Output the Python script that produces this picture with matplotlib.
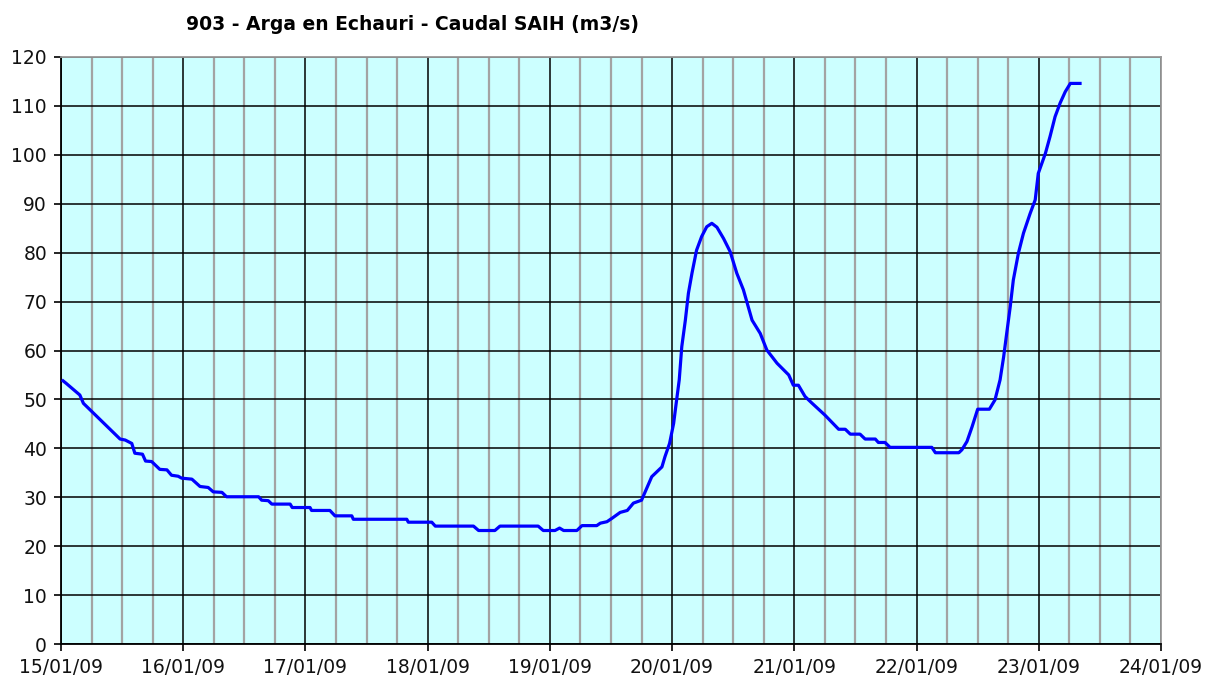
import matplotlib
matplotlib.use("Agg")
import matplotlib.pyplot as plt
import matplotlib.dates as mdates
import pandas as pd

# Hours since 15/01/09 00:00 and flow (m3/s)
hours = [0.4, 1.0, 3.7, 4.4, 11.6, 12.6, 13.9, 14.5, 16.0, 16.6, 17.8, 19.4,
         20.8, 21.7, 23.0, 23.7, 25.7, 27.3, 28.9, 29.9, 31.6, 32.5, 38.8, 39.4,
         40.7, 41.4, 45.0, 45.4, 48.9, 49.2, 52.8, 53.8, 57.1, 57.4, 67.9, 68.2,
         72.8, 73.5, 81.0, 82.0, 85.2, 86.2, 93.7, 94.7, 97.0, 97.9, 98.7, 101.3,
         102.3, 105.2, 105.9, 107.2, 108.2, 109.8, 111.2, 112.4, 114.0, 115.0,
         116.0, 118.0, 118.6, 119.5, 120.3, 120.8, 121.4, 121.9, 122.6, 123.2,
         123.9, 124.8, 125.8, 126.8, 127.8, 128.8, 130.1, 131.4, 132.7, 134.0,
         135.7, 137.3, 138.6, 140.6, 142.9, 143.8, 144.8, 146.1, 147.4, 150.0,
         152.7, 154.0, 155.0, 156.9, 157.9, 159.9, 160.5, 161.8, 162.8, 171.0,
         171.7, 176.3, 176.9, 177.9, 178.9, 180.0, 182.3, 183.4, 184.4, 185.1,
         185.7, 186.4, 187.0, 188.0, 189.0, 190.3, 191.3, 191.9, 193.3, 194.2,
         195.2, 196.2, 197.2, 198.2, 200.1]
caudal = [53.8, 53.3, 50.9, 49.2, 41.9, 41.7, 41.0, 39.0, 38.8, 37.4, 37.3, 35.7,
          35.6, 34.5, 34.3, 33.9, 33.7, 32.2, 32.0, 31.1, 31.0, 30.1, 30.1, 29.4,
          29.3, 28.6, 28.6, 27.9, 27.9, 27.3, 27.3, 26.2, 26.2, 25.5, 25.5, 24.9,
          24.9, 24.1, 24.1, 23.2, 23.2, 24.1, 24.1, 23.2, 23.2, 23.7, 23.2, 23.2,
          24.2, 24.2, 24.7, 25.0, 25.7, 26.9, 27.3, 28.8, 29.4, 31.8,
          34.2, 36.2, 38.3, 41.0, 45.1, 49.2, 54.0, 60.8, 66.2, 71.7,
          75.8, 80.5, 83.3, 85.3, 86.0, 85.2, 82.9, 80.2, 75.8, 72.4,
          66.2, 63.5, 60.1, 57.4, 55.0, 52.9, 52.9, 50.6, 49.3, 46.8,
          43.9, 43.9, 42.9, 42.9, 41.9, 41.9, 41.2, 41.2, 40.2, 40.2,
          39.1, 39.1, 39.7, 41.4, 44.4, 48.0, 48.0, 49.9, 54.0, 58.7,
          63.5, 69.0, 74.4, 79.9, 84.0, 88.0, 90.8, 96.2, 100.3, 103.7,
          107.8, 110.6, 112.9, 114.6, 114.6]
yticks = list(range(0, 121, 10))

t0 = pd.Timestamp("2009-01-15")
fechas = t0 + pd.to_timedelta(hours, unit="h")

fig = plt.figure(figsize=(12.06, 6.77), dpi=100)
ax = fig.add_axes([61/1206, 33/677, 1100/1206, 587/677])
ax.set_facecolor("#CCFFFF")

ax.plot(fechas, caudal, color="#0000FF", lw=2.3, zorder=3)

ax.set_xlim(t0, pd.Timestamp("2009-01-24"))
ax.set_ylim(0, 120)
ax.set_yticks(yticks)
ax.xaxis.set_major_locator(mdates.DayLocator())
ax.xaxis.set_minor_locator(mdates.HourLocator(byhour=[6, 12, 18]))
ax.xaxis.set_major_formatter(mdates.DateFormatter("%d/%m/%y"))

ax.grid(which="minor", axis="x", color="#A3A3A3", lw=1.6, zorder=1)
ax.grid(which="major", axis="x", color="black", lw=1.1, zorder=2)
ax.grid(which="major", axis="y", color="black", lw=1.1, zorder=2)
ax.set_axisbelow(True)

ax.tick_params(which="major", direction="out", length=5, width=1.2,
               labelsize=13.5, color="black", labelcolor="#111111", pad=5)
ax.tick_params(which="minor", length=0)
for s in ["left", "bottom"]:
    ax.spines[s].set_color("black")
    ax.spines[s].set_linewidth(1.3)
for s in ["top", "right"]:
    ax.spines[s].set_color("#999999")
    ax.spines[s].set_linewidth(1.3)

fig.text(412/1206, 1 - 25/677, "903 - Arga en Echauri - Caudal SAIH (m3/s)",
         ha="center", va="center", fontsize=13.5, fontweight="bold")

fig.savefig("out.png", dpi=100)
